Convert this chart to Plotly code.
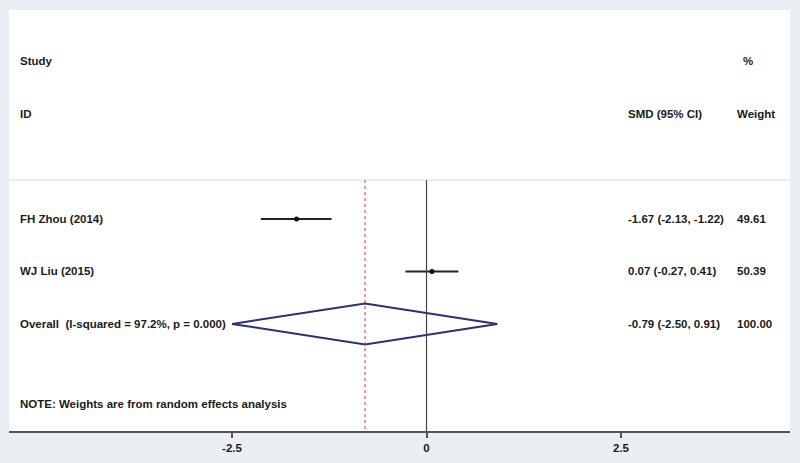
import plotly.graph_objects as go

# ---- data ----
studies = ["FH Zhou (2014)", "WJ Liu (2015)"]
smd = [-1.67, 0.07]
ci_low = [-2.13, -0.27]
ci_high = [-1.22, 0.41]
weights = [49.61, 50.39]
overall_label = "Overall  (I-squared = 97.2%, p = 0.000)"
overall_smd = -0.79
overall_low = -2.50
overall_high = 0.91
overall_weight = 100.00
note = "NOTE: Weights are from random effects analysis"
tick_vals = [-2.5, 0, 2.5]
tick_text = ["-2.5", "0", "2.5"]

# ---- layout helpers ----
W, H = 800, 463
ML, MR, MT, MB = 9, 10, 10, 32
X0, XPX = 426.5, 77.8  # pixel of zero, px per unit
xr = [(ML - X0) / XPX, (W - MR - X0) / XPX]
yr = [5.04, -2.98]


def px2paper(px):
    return (px - ML) / (W - ML - MR)


FONT = "Liberation Sans, Arial, sans-serif"
TXT = "#1a1a1a"
FS = 11.5

fig = go.Figure()

# CI lines and point estimates
for i, (m, lo, hi) in enumerate(zip(smd, ci_low, ci_high)):
    y = i + 1
    fig.add_trace(go.Scatter(x=[lo, hi], y=[y, y], mode="lines",
                             line=dict(color="#222222", width=2),
                             showlegend=False, hoverinfo="skip"))
    fig.add_trace(go.Scatter(x=[m], y=[y], mode="markers",
                             marker=dict(color="#111111", size=5),
                             showlegend=False))

# overall diamond
yo = len(studies) + 1
hh = 0.39
fig.add_trace(go.Scatter(
    x=[overall_low, overall_smd, overall_high, overall_smd, overall_low],
    y=[yo, yo - hh, yo, yo + hh, yo],
    mode="lines", line=dict(color="#2a2f7a", width=2),
    showlegend=False, hoverinfo="skip"))

sep_y = 0.26
# separator line
fig.add_shape(type="line", xref="paper", yref="y", x0=0, x1=1, y0=sep_y, y1=sep_y,
              line=dict(color="#dcdcdc", width=1))
# zero line
fig.add_shape(type="line", xref="x", yref="y", x0=0, x1=0, y0=sep_y, y1=yr[0],
              line=dict(color="#444444", width=1.2))
# overall dashed line
fig.add_shape(type="line", xref="x", yref="y", x0=overall_smd, x1=overall_smd,
              y0=sep_y, y1=yr[0], line=dict(color="#c0392b", width=1, dash="3px,3px"))

ann = []


def text(px, y, s, anchor="left"):
    ann.append(dict(x=px2paper(px), xref="paper", y=y, yref="y", text=s,
                    showarrow=False, xanchor=anchor, yanchor="middle",
                    font=dict(family=FONT, size=FS, color=TXT, weight="bold")))


LX, CX, WX = 18, 626, 735
text(LX, -2, "Study")
text(741, -2, "%")
text(LX, -1, "ID")
text(CX, -1, "SMD (95% CI)")
text(WX, -1, "Weight")
for i, s in enumerate(studies):
    y = i + 1
    text(LX, y, s)
    text(CX, y, f"{smd[i]:.2f} ({ci_low[i]:.2f}, {ci_high[i]:.2f})")
    text(WX, y, f"{weights[i]:.2f}")
text(LX, yo, overall_label)
text(CX, yo, f"{overall_smd:.2f} ({overall_low:.2f}, {overall_high:.2f})")
text(WX, yo, f"{overall_weight:.2f}")
text(LX, 4.52, note)

fig.update_layout(
    width=W, height=H,
    margin=dict(l=ML, r=MR, t=MT, b=MB),
    paper_bgcolor="#e9eff2",
    plot_bgcolor="#ffffff",
    annotations=ann,
    xaxis=dict(range=xr, tickvals=tick_vals, ticktext=tick_text,
               showgrid=False, zeroline=False, showline=True,
               linecolor="#555555", linewidth=1.5,
               ticks="outside", ticklen=5, tickwidth=1.5, tickcolor="#555555",
               tickfont=dict(family=FONT, size=FS, color=TXT, weight="bold")),
    yaxis=dict(range=yr, showgrid=False, zeroline=False, showticklabels=False,
               showline=False),
)

fig.write_html("out.html", config={"displayModeBar": False},
               post_script="document.body.style.margin='0';document.body.style.padding='0';")
